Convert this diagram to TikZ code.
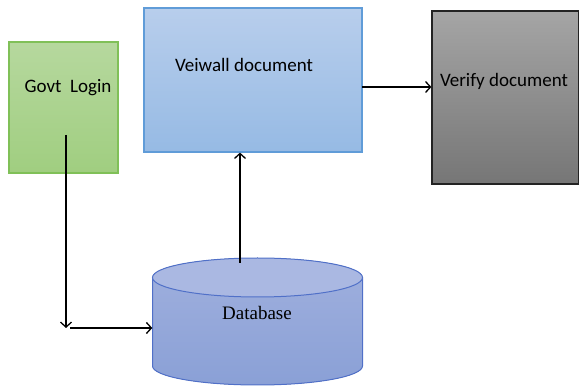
\documentclass[tikz,border=0pt]{standalone}
\usepackage{fontspec}
\setmainfont{Liberation Serif}
\newfontfamily\calib{Carlito}
\usetikzlibrary{arrows.meta}
\definecolor{gtop}{RGB}{182,216,158}
\definecolor{gbot}{RGB}{160,206,128}
\definecolor{gbord}{RGB}{128,192,88}
\definecolor{btop}{RGB}{184,206,236}
\definecolor{bbot}{RGB}{150,186,228}
\definecolor{bbord}{RGB}{96,156,216}
\definecolor{ktop}{RGB}{165,165,165}
\definecolor{kbot}{RGB}{118,118,118}
\definecolor{kbord}{RGB}{35,35,35}
\definecolor{dtop}{RGB}{170,184,226}
\definecolor{dbody}{RGB}{160,176,222}
\definecolor{dbot}{RGB}{138,160,214}
\definecolor{dbord}{RGB}{80,112,200}
\begin{document}
\begin{tikzpicture}[x=1pt,y=-1pt,
  box/.style={draw, line width=1.2pt, inner sep=0pt},
  arr/.style={line width=1.3pt, -{Straight Barb[length=5pt,width=11pt,line width=1.3pt]}},
  lbl/.style={font=\calib\fontsize{19}{22}\selectfont, inner sep=0pt},
  dblbl/.style={font=\fontsize{19}{22}\selectfont, inner sep=0pt}]
\useasboundingbox (0,0) rectangle (579,387);
% boxes
\node[box, draw=gbord, top color=gtop, bottom color=gbot, minimum width=109pt, minimum height=131pt] (gl) at (63.5,107.5) {};
\node[box, draw=bbord, top color=btop, bottom color=bbot, minimum width=218pt, minimum height=144pt] (vw) at (253,80) {};
\node[box, draw=kbord, top color=ktop, bottom color=kbot, minimum width=147pt, minimum height=173pt] (vf) at (505.5,97.5) {};
% database cylinder
\node[minimum width=210pt, minimum height=127pt, inner sep=0pt] (db) at (257.5,321) {};
\fill[top color=dbody, bottom color=dbot] (152.5,277.5) -- (152.5,366) arc[start angle=180, end angle=360, x radius=105pt, y radius=19pt] -- (362.5,277.5) arc[start angle=0, end angle=180, x radius=105pt, y radius=19.5pt] -- cycle;
\draw[dbord, line width=1pt] (152.5,277.5) -- (152.5,366) arc[start angle=180, end angle=360, x radius=105pt, y radius=19pt] -- (362.5,277.5);
\draw[dbord, line width=1pt, fill=dtop] (257.5,277.5) ellipse[x radius=105pt, y radius=19.5pt];
% labels
\node[lbl] (glt) at (68,88) {Govt\ \ Login};
\node[lbl] (vwt) at (244,65) {Veiwall document};
\node[lbl] (vft) at (504,81) {Verify document};
\node[dblbl] (dbt) at (257,313) {Database};
% connectors
\coordinate (g1) at (66,135);
\coordinate (g2) at (66,328);
\coordinate (g3) at (70,328);
\coordinate (d1) at (240,263);
\coordinate (r1) at (362,87);
\draw[arr] (g1) -- (g2);
\draw[arr] (g3) -- (g3 -| db.west);
\draw[arr] (d1) -- (d1 |- vw.south);
\draw[arr] (r1) -- (r1 -| vf.west);
\end{tikzpicture}
\end{document}
